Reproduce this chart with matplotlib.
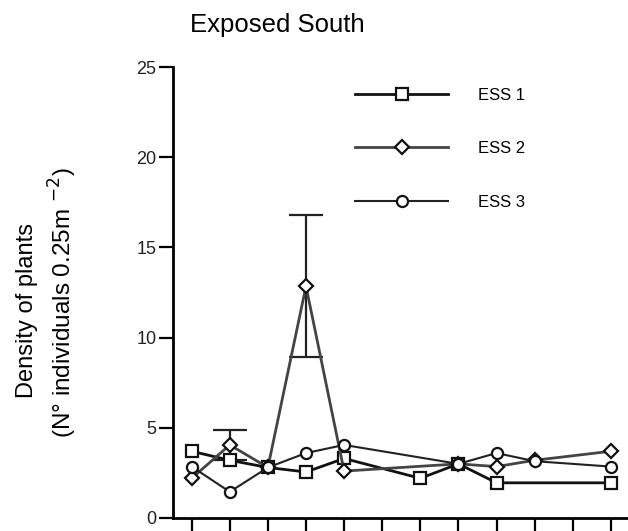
import numpy as np
import matplotlib
matplotlib.use("Agg")
from matplotlib import pyplot as plt

plt.rcParams["font.family"] = ["Liberation Sans", "DejaVu Sans"]

# sampling occasions (x labels are cropped off in the source figure)
occasions = list(range(1, 13))
ess1 = [3.7, 3.2, 2.8, 2.55, 3.3, np.nan, 2.2, 3.0, 1.95, np.nan, np.nan, 1.95]
ess2 = [2.2, 4.05, 2.8, 12.85, 2.6, np.nan, np.nan, 3.0, 2.85, 3.2, np.nan, 3.7]
ess3 = [2.85, 1.45, 2.8, 3.6, 4.05, np.nan, np.nan, 3.0, 3.6, 3.15, np.nan, 2.85]
ess2_err = [0, 0.85, 0, 3.95, 0, 0, 0, 0, 0, 0, 0, 0]

series = [
    ("ESS 1", ess1, None, "s", "#111111", 2.0, 8.5),
    ("ESS 2", ess2, ess2_err, "D", "#444444", 2.0, 7),
    ("ESS 3", ess3, None, "o", "#222222", 1.5, 8),
]

fig = plt.figure(figsize=(6.28, 5.31), dpi=100)
ax = fig.add_axes([173 / 628, 13 / 531, 455 / 628, 451 / 531])

x = np.array(occasions)
for name, vals, err, mk, col, lw, ms in series:
    v = np.array(vals)
    ok = ~np.isnan(v)
    ax.plot(x[ok], v[ok], color=col, lw=lw, marker=mk, ms=ms,
            mfc="white", mec="#111111", mew=1.6, label=name, zorder=3)
    if err is not None:
        e = np.array(err)
        has = e > 0
        ax.errorbar(x[has], v[has], yerr=e[has], fmt="none", ecolor="#222222",
                    elinewidth=1.6, capsize=12, capthick=1.6, zorder=2)

ax.set_xlim(0.51, 12.45)
ax.set_ylim(0, 25)
ax.set_yticks([0, 5, 10, 15, 20, 25])
ax.set_xticks(occasions)
ax.set_xticklabels([])
ax.tick_params(axis="y", direction="out", length=10, width=1.6, labelsize=13,
               pad=2, labelcolor="#222222")
ax.tick_params(axis="x", direction="out", length=14, width=1.6)
for s in ["top", "right"]:
    ax.spines[s].set_visible(False)
for s in ["left", "bottom"]:
    ax.spines[s].set_linewidth(2.0)

# y-axis title (two lines)
fig.text(27 / 628, 1 - 311 / 531, "Density of plants", rotation=90,
         fontsize=17, ha="center", va="center")
fig.text(63 / 628, 1 - 303 / 531, "(N° individuals 0.25m $^{-2}$)", rotation=90,
         fontsize=17.5, ha="center", va="center")

fig.text(277 / 628, 1 - 25 / 531, "Exposed South", fontsize=18.5, ha="center", va="center")

ax.legend(loc="upper left", bbox_to_anchor=(340 / 628, 1 - 73 / 531),
          bbox_transform=fig.transFigure, frameon=False, fontsize=12,
          handlelength=5.6, handletextpad=1.75, labelspacing=2.3)

plt.savefig("out.png", dpi=100)
